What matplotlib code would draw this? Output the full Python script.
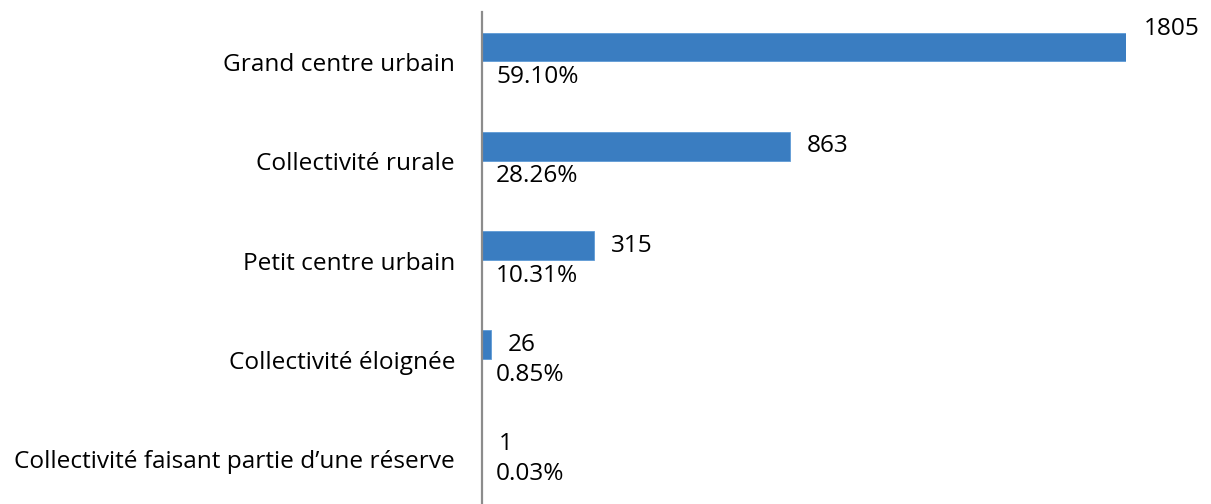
import matplotlib
matplotlib.use("Agg")
import matplotlib.pyplot as plt
from matplotlib.transforms import ScaledTranslation

categories = ["Grand centre urbain", "Collectivité rurale", "Petit centre urbain",
              "Collectivité éloignée", "Collectivité faisant partie d\u2019une réserve"]
counts = [1805, 863, 315, 26, 1]
percents = ["59.10%", "28.26%", "10.31%", "0.85%", "0.03%"]

W, H = 1211, 504
DPI = 100
plt.rcParams['font.family'] = ['Open Sans', 'DejaVu Sans']
FS = 17.6

fig = plt.figure(figsize=(W / DPI, H / DPI), dpi=DPI)
fig.patch.set_facecolor('white')
x0 = 481.5 / W
wpx = 1126 - 481.5
ax = fig.add_axes([x0, 0, wpx / W, (504 - 12) / H])
ax.set_xlim(0, counts[0])
step = 99.25
ax.set_ylim((504 - 47) / step, -35 / step)

ypos = list(range(len(categories)))
ax.barh(ypos, counts, height=0.29, color='#3A7DC1', edgecolor='#5F9BD6', linewidth=0.6, zorder=2)

ax.set_yticks(ypos)
ax.set_yticklabels(categories, fontsize=FS)
ax.tick_params(axis='y', length=0, pad=19)
shift = ScaledTranslation(0, -15 / DPI, fig.dpi_scale_trans)
for lbl in ax.get_yticklabels():
    lbl.set_transform(lbl.get_transform() + shift)
ax.set_xticks([])
for s in ['top', 'right', 'bottom']:
    ax.spines[s].set_visible(False)
ax.spines['left'].set_color('#8C8C8C')
ax.spines['left'].set_linewidth(1.6)
ax.spines['left'].set_zorder(3)

for i, (c, p) in enumerate(zip(counts, percents)):
    dy = -18 if i == 0 else 0
    ax.annotate(str(c), xy=(c, i), xytext=(12.5, -dy * 0.72), textcoords='offset points',
                ha='left', va='center', fontsize=FS, color='black')
    ax.annotate(p, xy=(0, i), xytext=(10.5, -30 * 0.72), textcoords='offset points',
                ha='left', va='center', fontsize=FS, color='black')

fig.savefig('out.png', dpi=DPI, facecolor='white')
